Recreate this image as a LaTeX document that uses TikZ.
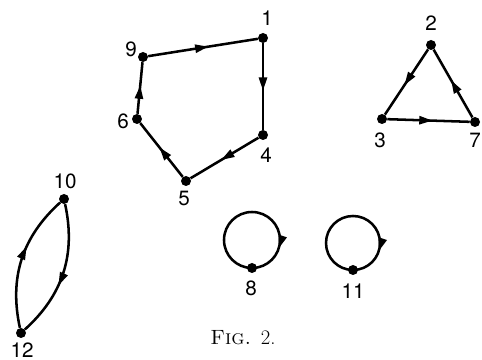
\documentclass[tikz,border=0pt]{standalone}
\usepackage{fontspec}
\newfontfamily\heros{TeX Gyre Heros}
\usetikzlibrary{arrows.meta,decorations.markings}
\begin{document}
\begin{tikzpicture}[x=0.75pt,y=0.75pt,
  dot/.style={circle,fill=black,inner sep=0pt,minimum size=7.5pt},
  lbl/.style={font=\heros\fontsize{15.5}{18}\selectfont,inner sep=0pt},
  edge/.style={line width=1.9pt},
  midarrow/.style={edge,postaction={decorate},decoration={markings,
    mark=at position #1 with {\arrow{Triangle[length=10pt,width=6pt]}}}},
  midarrow/.default=0.55]
\useasboundingbox (0,0) rectangle (482,360);
% nodes
\node[dot] (n1) at (263,322) {};
\node[dot] (n9) at (143,303) {};
\node[dot] (n4) at (263,225) {};
\node[dot] (n5) at (186,179) {};
\node[dot] (n6) at (137,241) {};
\node[dot] (n2) at (431,315) {};
\node[dot] (n3) at (382,241) {};
\node[dot] (n7) at (475,238) {};
\node[dot] (n10) at (64,161) {};
\node[dot] (n12) at (21,27) {};
\node[dot] (n8) at (252,92) {};
\node[dot] (n11) at (353,90) {};
% labels
\node[lbl] (l1) at (267,342) {1};
\node[lbl] (l9) at (131,311) {9};
\node[lbl] (l6) at (123,239) {6};
\node[lbl] (l4) at (266,205) {4};
\node[lbl] (l5) at (184,162) {5};
\node[lbl] (l2) at (431,337) {2};
\node[lbl] (l3) at (380,220) {3};
\node[lbl] (l7) at (475,220) {7};
\node[lbl] (l10) at (65,179) {10};
\node[lbl] (l12) at (22,10) {12};
\node[lbl] (l8) at (251,72) {8};
\node[lbl] (l11) at (353,69) {11};
\node[inner sep=0pt,font=\fontsize{15.5}{18}\selectfont] (cap) at (243,22) {\textsc{Fig.}\ \,2.};
% pentagon cycle
\draw[midarrow] (n9) -- (n1);
\draw[midarrow] (n1) -- (n4);
\draw[midarrow] (n4) -- (n5);
\draw[midarrow] (n5) -- (n6);
\draw[midarrow] (n6) -- (n9);
% triangle
\draw[midarrow] (n2) -- (n3);
\draw[midarrow] (n3) -- (n7);
\draw[midarrow] (n7) -- (n2);
% two-cycle
\draw[midarrow=0.6] (n12) to[bend left=30] (n10);
\draw[midarrow=0.6] (n10) to[bend left=30] (n12);
% loops
\draw[midarrow=0.8] (n8.center) arc[start angle=-90,end angle=-450,radius=28];
\draw[midarrow=0.8] (n11.center) arc[start angle=-90,end angle=-450,radius=27];
\end{tikzpicture}
\end{document}
